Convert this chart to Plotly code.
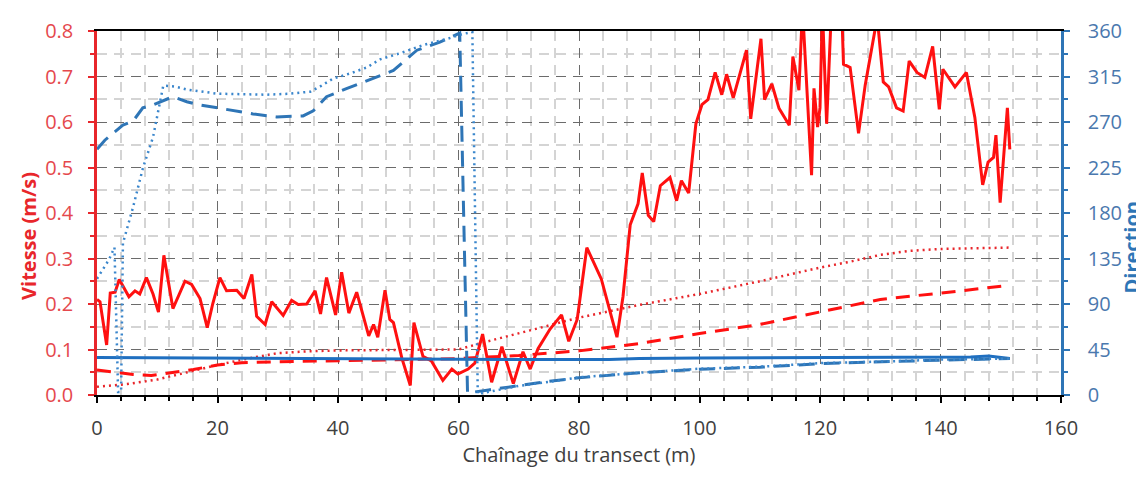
import plotly.graph_objects as go

# ---------------- data ----------------
# Vitesse (m/s) – solid red
vit_x = [0, 0.5, 1.6, 2.2, 3.0, 3.7, 5.3, 6.3, 7.1, 8.2, 9.3, 10.2, 11.1, 12.6, 14.6, 15.7,
         17.1, 18.3, 19.2, 20.4, 21.5, 23.2, 24.4, 25.7, 26.5, 27.9, 29.0, 30.9, 32.3, 33.4,
         34.8, 36.2, 37.1, 38.1, 39.6, 40.6, 41.8, 43.1, 45.1, 45.9, 46.6, 47.8, 48.6, 49.2,
         50.6, 52.0, 52.6, 54.1, 55.5, 57.4, 58.9, 59.9, 61.6, 62.7, 64.0, 65.5, 67.2, 69.1,
         70.7, 71.9, 73.2, 75.2, 77.1, 78.3, 79.7, 81.3, 83.7, 86.3, 87.3, 88.5, 89.8, 90.5,
         91.5, 92.4, 93.5, 95.1, 96.2, 97.0, 98.2, 99.4, 100.4, 101.4, 102.6, 103.7, 104.5,
         105.6, 107.8, 108.5, 110.2, 110.8, 112.0, 113.2, 114.9, 115.5, 116.5, 117.1, 118.6,
         119.0, 119.6, 120.0, 120.4, 121.1, 121.9, 123.6, 123.9, 125.0, 126.4, 127.5, 129.5,
         130.5, 131.4, 132.7, 133.8, 134.8, 136.1, 137.4, 138.7, 139.8, 140.4, 142.4, 144.3,
         145.7, 147.0, 147.9, 148.8, 149.2, 149.9, 151.1, 151.5]
vit_y = [0.21, 0.205, 0.11, 0.224, 0.226, 0.254, 0.216, 0.229, 0.222, 0.258, 0.222, 0.182,
         0.307, 0.19, 0.25, 0.243, 0.212, 0.148, 0.2, 0.258, 0.229, 0.23, 0.212, 0.265, 0.173,
         0.155, 0.205, 0.175, 0.208, 0.199, 0.2, 0.229, 0.178, 0.258, 0.176, 0.27, 0.18, 0.226,
         0.13, 0.155, 0.127, 0.23, 0.166, 0.159, 0.081, 0.021, 0.159, 0.085, 0.075, 0.032,
         0.057, 0.046, 0.057, 0.07, 0.134, 0.028, 0.106, 0.025, 0.095, 0.057, 0.102, 0.145,
         0.176, 0.118, 0.166, 0.324, 0.255, 0.127, 0.216, 0.374, 0.42, 0.488, 0.395, 0.381,
         0.46, 0.478, 0.427, 0.471, 0.444, 0.596, 0.638, 0.649, 0.709, 0.66, 0.705, 0.653,
         0.758, 0.607, 0.783, 0.649, 0.684, 0.63, 0.593, 0.744, 0.67, 0.85, 0.483, 0.674,
         0.589, 0.631, 0.85, 0.596, 0.85, 0.85, 0.727, 0.72, 0.575, 0.681, 0.83, 0.688, 0.677,
         0.631, 0.624, 0.734, 0.709, 0.698, 0.766, 0.628, 0.716, 0.677, 0.709, 0.61, 0.462,
         0.512, 0.522, 0.571, 0.423, 0.631, 0.54]

# red dashed (left axis)
rdash_x = [0, 3, 6, 9, 12, 16, 20, 24, 30, 40, 50, 60, 70, 80, 90, 100, 110, 120, 125, 130, 140, 151.5]
rdash_y = [0.055, 0.05, 0.045, 0.043, 0.048, 0.056, 0.066, 0.071, 0.073, 0.075, 0.078, 0.08,
           0.087, 0.097, 0.113, 0.135, 0.155, 0.182, 0.196, 0.21, 0.224, 0.241]

# red dotted (left axis)
rdot_x = [0, 5, 10, 15, 20, 25, 30, 35, 40, 50, 60, 64, 70, 80, 90, 100, 110, 120, 125, 130, 135, 140, 151.5]
rdot_y = [0.018, 0.024, 0.034, 0.05, 0.066, 0.08, 0.092, 0.096, 0.098, 0.099, 0.1, 0.115,
          0.135, 0.17, 0.198, 0.222, 0.25, 0.28, 0.293, 0.308, 0.317, 0.321, 0.324]

# Direction – blue dashed (right axis)
bdash_x = [0, 1.3, 4.3, 6.0, 7.6, 9.3, 12.6, 14.9, 17, 19.9, 22.6, 25.9, 29.8, 34.2, 35.9,
           38.1, 41.4, 45.8, 49.2, 53.1, 56.9, 60.2, 61.5, 65, 70, 75, 80, 90, 100, 110,
           120, 130, 140, 151.5]
bdash_y = [243, 252, 267, 271, 284, 287, 295, 290, 287, 284, 281, 278, 275, 276, 281, 295,
           303, 313, 321, 341, 349, 358, 2, 5, 9.5, 13.5, 17, 22, 25.5, 27.5, 31, 33, 34.5, 36]

# Direction – blue dotted (right axis)
bdot_x = [0, 1, 2, 2.9, 3.5, 4.0, 4.3, 6.0, 7.6, 9.3, 10.4, 11.0, 13, 15, 20, 25, 28, 32,
          35.4, 37, 39.2, 42, 44.8, 47, 50.3, 54.1, 58, 60.7, 62.3, 63.2, 66, 70, 75, 80,
          90, 100, 110, 120, 130, 140, 151.5]
bdot_y = [115, 124, 134, 146, 3, 3, 150, 186, 224, 255, 290, 306, 305, 302, 298, 297, 297,
          298, 300, 305, 313, 318, 324, 332, 338, 346, 352, 357, 359, 1, 4, 9, 13, 17.5, 22,
          26, 28, 31.5, 33, 35, 36]

# Direction – blue solid (right axis)
bsol_x = [0, 15, 30, 45, 60, 75, 85, 90, 100, 130, 145, 148, 151.5]
bsol_y = [37, 36.5, 36, 35.5, 35, 35, 35, 36, 36.5, 37, 37.5, 38.5, 36]

x_title = "Chaînage du transect (m)"
y_title = "Vitesse (m/s)"
y2_title = "Direction"

RED = "#FF1010"
BLUE = "#2E75B6"
FONT = "Open Sans"

fig = go.Figure()
fig.add_trace(go.Scatter(x=rdot_x, y=rdot_y, mode="lines",
                         line=dict(color="#E8262B", width=2.5, dash="2px,4px")))
fig.add_trace(go.Scatter(x=rdash_x, y=rdash_y, mode="lines",
                         line=dict(color=RED, width=3, dash="14px,9px")))
fig.add_trace(go.Scatter(x=bsol_x, y=bsol_y, mode="lines", yaxis="y2",
                         line=dict(color="#1F6FC0", width=3)))
fig.add_trace(go.Scatter(x=bdash_x, y=bdash_y, mode="lines", yaxis="y2",
                         line=dict(color=BLUE, width=3, dash="16px,9px")))
fig.add_trace(go.Scatter(x=bdot_x, y=bdot_y, mode="lines", yaxis="y2",
                         line=dict(color="#3A86CC", width=2.5, dash="2px,4px")))
fig.add_trace(go.Scatter(x=vit_x, y=vit_y, mode="lines",
                         line=dict(color=RED, width=3)))

major_grid = dict(showgrid=True, gridcolor="#6b6b6b", gridwidth=1.3, griddash="10px,7px")

# page body has an 8px margin: shrink figure so the plot area lands where the reference has it
fig.update_layout(
    width=1136, height=469,
    margin=dict(l=89, r=83, t=9, b=82),
    paper_bgcolor="white", plot_bgcolor="white",
    showlegend=False,
    font=dict(family=FONT, size=19, color="#404040"),
    xaxis=dict(range=[0, 160], dtick=20, tick0=0, **major_grid,
               showline=True, linecolor="black", linewidth=2, mirror=True,
               ticks="outside", ticklen=6, tickwidth=2, tickcolor="black",
               minor=dict(dtick=4, showgrid=True, gridcolor="#d4d4d4", gridwidth=1.5,
                          ticks="outside", ticklen=4, tickwidth=2, tickcolor="black"),
               zeroline=False, ticklabeloverflow="allow",
               tickfont=dict(size=20, color="#404040"), ticklabelstandoff=8,
               title=dict(text=x_title, font=dict(size=20, color="#404040"), standoff=0)),
    xaxis3=dict(range=[0, 160], dtick=20, overlaying="x", anchor="y",
                showgrid=False, showticklabels=False, zeroline=False,
                ticks="inside", ticklen=6, tickwidth=2, tickcolor="black",
                minor=dict(dtick=4, ticks="inside", ticklen=4, tickwidth=2, tickcolor="black")),
    yaxis=dict(range=[0, 0.8], dtick=0.1, tick0=0, tickformat=".1f", **major_grid,
               showline=True, linecolor="#E8262B", linewidth=2.5,
               ticks="outside", ticklen=6, tickwidth=2, tickcolor="#E8262B",
               minor=dict(dtick=0.05, showgrid=True, gridcolor="#d4d4d4", gridwidth=1.5,
                          ticks="outside", ticklen=4, tickwidth=2, tickcolor="#E8262B"),
               zeroline=False, ticklabeloverflow="allow",
               tickfont=dict(size=20, color="#E5484D"), ticklabelstandoff=11),
    yaxis3=dict(range=[0, 0.8], dtick=0.1, overlaying="y", anchor="x", side="left",
                showgrid=False, showticklabels=False, zeroline=False,
                ticks="inside", ticklen=6, tickwidth=2, tickcolor="#E8262B",
                minor=dict(dtick=0.05, ticks="inside", ticklen=4, tickwidth=2, tickcolor="#E8262B")),
    yaxis2=dict(range=[0, 360], dtick=45, tick0=0, overlaying="y", side="right", anchor="x",
                showgrid=False, zeroline=False,
                showline=True, linecolor=BLUE, linewidth=2.5,
                ticks="outside", ticklen=6, tickwidth=2, tickcolor=BLUE,
                minor=dict(dtick=22.5, ticks="outside", ticklen=4, tickwidth=2, tickcolor=BLUE),
                ticklabeloverflow="allow",
                tickfont=dict(size=20, color="#4A78AE"), ticklabelstandoff=14),
    yaxis4=dict(range=[0, 360], dtick=45, overlaying="y", side="right", anchor="x",
                showgrid=False, showticklabels=False, zeroline=False,
                ticks="inside", ticklen=6, tickwidth=2, tickcolor=BLUE,
                minor=dict(dtick=22.5, ticks="inside", ticklen=4, tickwidth=2, tickcolor=BLUE)),
)

fig.add_annotation(text="<b>" + y_title + "</b>", xref="paper", yref="paper",
                   x=-0.0705, y=0.437, xanchor="center", yanchor="middle",
                   textangle=-90, showarrow=False,
                   font=dict(size=20, color="#E8262B", family=FONT))
fig.add_annotation(text="<b>" + y2_title + "</b>", xref="paper", yref="paper",
                   x=1.0735, y=0.405, xanchor="center", yanchor="middle",
                   textangle=-90, showarrow=False,
                   font=dict(size=20, color=BLUE, family=FONT))

fig.write_html("out.html")
